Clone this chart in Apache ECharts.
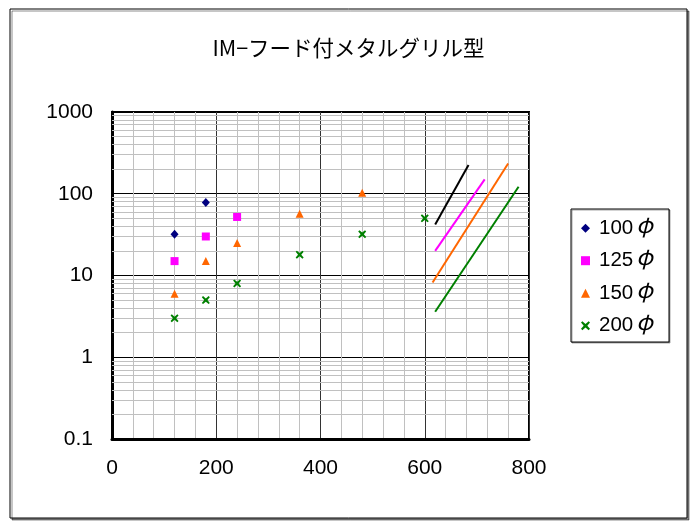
<!DOCTYPE html>
<html><head><meta charset="utf-8">
<script src="https://cdn.jsdelivr.net/npm/echarts@6/dist/echarts.min.js"></script>
<style>html,body{margin:0;padding:0;background:#fff}#c{width:697px;height:526px}</style>
</head><body><div id="c"></div>
<script>
const titleText = 'IM−フード付メタルグリル型';
const seriesNames = ['100φ', '125φ', '150φ', '200φ'];
const s100x = [120, 180];
const s100y = [32, 78];
const s125x = [120, 180, 240];
const s125y = [15, 30, 52];
const s150x = [120, 180, 240, 360, 480];
const s150y = [6, 15, 25, 57, 103];
const s200x = [120, 180, 240, 360, 480, 600];
const s200y = [3, 5, 8, 18, 32, 50];
const l100x = [620, 684];
const l100y = [42, 225];
const l125x = [620, 715];
const l125y = [20, 150];
const l150x = [615, 760];
const l150y = [8.2, 235];
const l200x = [620, 780];
const l200y = [3.6, 122];
const yDecades = [0.1, 1, 10, 100, 1000];
const xTicks = [0, 200, 400, 600, 800];

const pair = (xs, ys) => xs.map((x, i) => [x, ys[i]]);
const minorY = [];
for (let i = 0; i < yDecades.length - 1; i++) {
  for (let k = 2; k <= 9; k++) minorY.push({ yAxis: +(yDecades[i] * k).toPrecision(6) });
}
const xSym = 'path://M1.5,0 L5,3 L8.5,0 L10,1.5 L7,5 L10,8.5 L8.5,10 L5,7 L1.5,10 L0,8.5 L3,5 L0,1.5 Z';
const colors = ['#000080', '#FF00FF', '#FF6600', '#008000'];
const lineColors = ['#000000', '#FF00FF', '#FF6600', '#008000'];

const chart = echarts.init(document.getElementById('c'), null, { renderer: 'canvas' });
chart.setOption({
  animation: false,
  backgroundColor: '#fff',
  title: {
    text: titleText, left: 'center', top: 32,
    textStyle: { fontFamily: 'Noto Sans CJK JP', fontSize: 21.5, fontWeight: 'normal', color: '#000' }
  },
  graphic: [
    { type: 'rect', shape: { x: 10, y: 9, width: 677, height: 509 }, z: -10,
      style: { fill: '#fff', stroke: '#000', lineWidth: 1, shadowColor: 'rgba(0,0,0,0.45)', shadowOffsetX: 2, shadowOffsetY: 2, shadowBlur: 0 } },
    { type: 'rect', shape: { x: 571, y: 209, width: 98, height: 133 }, z: 1,
      style: { fill: '#fff', stroke: '#000', lineWidth: 1, shadowColor: 'rgba(0,0,0,0.35)', shadowOffsetX: 1, shadowOffsetY: 1, shadowBlur: 0 } }
  ],
  legend: {
    orient: 'vertical', left: 581, top: 213.2, padding: 0, itemGap: 2.5,
    itemWidth: 9, itemHeight: 9, z: 5,
    data: seriesNames,
    formatter: name => '{n|' + name.replace('φ', '}{p|φ}'),
    textStyle: { fontFamily: 'Liberation Sans', fontSize: 20.5, lineHeight: 22, color: '#000', padding: [0, 0, 0, 4],
      rich: {
        n: { fontFamily: 'Liberation Sans', fontSize: 20.5, lineHeight: 22, verticalAlign: 'middle', color: '#000' },
        p: { fontFamily: 'Noto Sans CJK JP', fontStyle: 'italic', fontSize: 22, lineHeight: 22, verticalAlign: 'middle', color: '#000', padding: [0, 0, 8, 3] }
      } }
  },
  grid: { left: 112, top: 112, right: 168, bottom: 87, show: true, borderColor: '#000', borderWidth: 2, backgroundColor: 'transparent' },
  xAxis: {
    type: 'value', min: xTicks[0], max: xTicks[xTicks.length - 1], interval: 200,
    axisLine: { show: true, onZero: false, lineStyle: { color: '#000', width: 3 } },
    axisTick: { show: false },
    axisLabel: { margin: 19, fontFamily: 'Liberation Sans', fontSize: 21, color: '#000' },
    splitLine: { show: true, lineStyle: { color: '#333', width: 1 } },
    minorTick: { show: false, splitNumber: 5 },
    minorSplitLine: { show: true, lineStyle: { color: '#c0c0c0', width: 1 } }
  },
  yAxis: {
    type: 'log', logBase: 10, min: yDecades[0], max: yDecades[yDecades.length - 1],
    axisLine: { show: true, lineStyle: { color: '#000', width: 3 } },
    axisTick: { show: false },
    axisLabel: { margin: 19, fontFamily: 'Liberation Sans', fontSize: 21, color: '#000',
      formatter: v => String(+(+v).toPrecision(6)) },
    splitLine: { show: true, lineStyle: { color: '#000', width: 1 } }
  },
  series: [
    { name: seriesNames[0], type: 'scatter', symbol: 'diamond', symbolSize: [8, 9], itemStyle: { color: colors[0], opacity: 1 },
      data: pair(s100x, s100y), z: 4,
      markLine: { silent: true, symbol: 'none', z: 1, label: { show: false }, animation: false,
        lineStyle: { color: '#c0c0c0', width: 1, type: 'solid' }, emphasis: { disabled: true }, data: minorY } },
    { name: seriesNames[1], type: 'scatter', symbol: 'rect', symbolSize: 8, itemStyle: { color: colors[1], opacity: 1 }, data: pair(s125x, s125y), z: 4 },
    { name: seriesNames[2], type: 'scatter', symbol: 'triangle', symbolSize: [8, 8], itemStyle: { color: colors[2], opacity: 1 }, data: pair(s150x, s150y), z: 4 },
    { name: seriesNames[3], type: 'scatter', symbol: xSym, symbolSize: 8, itemStyle: { color: colors[3], opacity: 1 }, data: pair(s200x, s200y), z: 4 },
    { name: 'l100', type: 'line', showSymbol: false, symbol: 'none', lineStyle: { color: lineColors[0], width: 2 }, data: pair(l100x, l100y), z: 3 },
    { name: 'l125', type: 'line', showSymbol: false, symbol: 'none', lineStyle: { color: lineColors[1], width: 2 }, data: pair(l125x, l125y), z: 3 },
    { name: 'l150', type: 'line', showSymbol: false, symbol: 'none', lineStyle: { color: lineColors[2], width: 2 }, data: pair(l150x, l150y), z: 3 },
    { name: 'l200', type: 'line', showSymbol: false, symbol: 'none', lineStyle: { color: lineColors[3], width: 2 }, data: pair(l200x, l200y), z: 3 }
  ]
});
</script></body></html>
